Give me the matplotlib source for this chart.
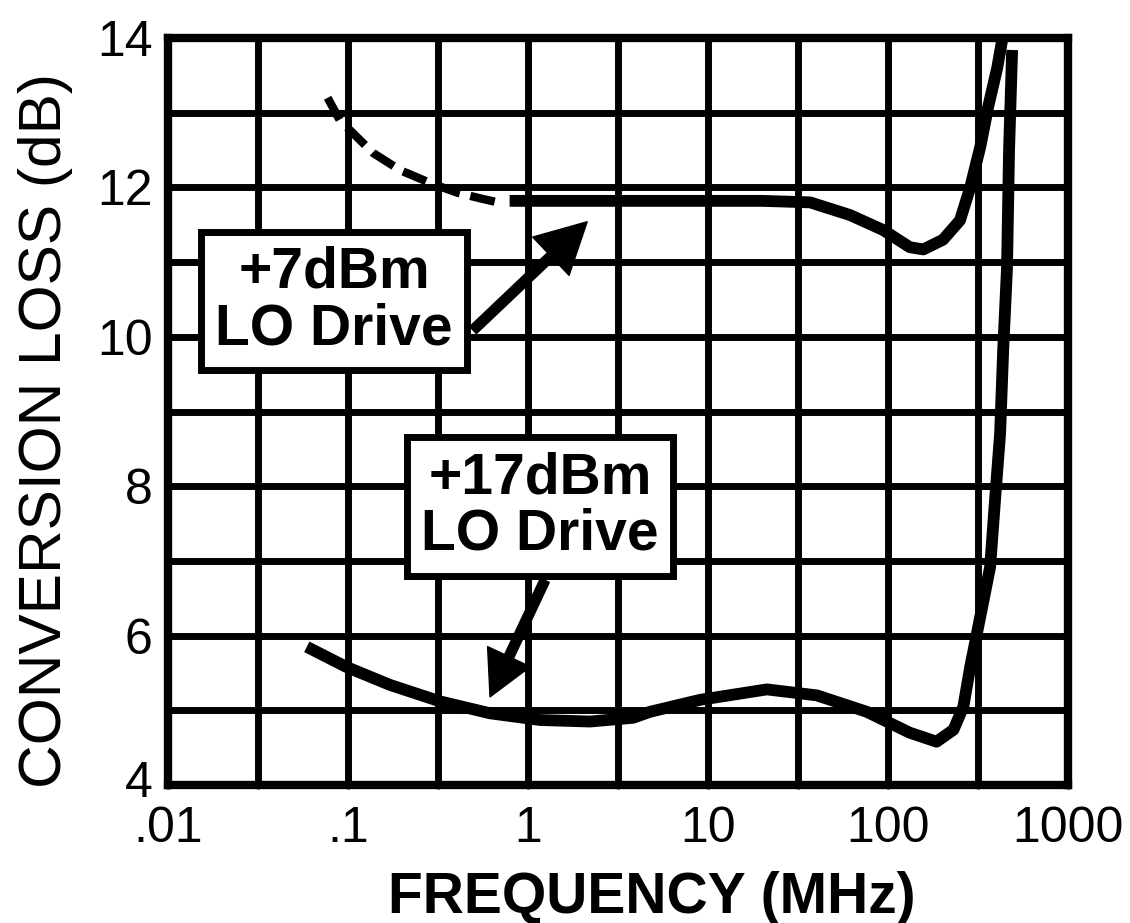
import numpy as np
import matplotlib
matplotlib.use('Agg')
import matplotlib.pyplot as plt
import matplotlib.transforms as mtransforms
from matplotlib.ticker import FixedLocator, NullFormatter

plt.rcParams['font.family'] = ['Liberation Sans', 'DejaVu Sans']

# +7dBm LO drive, dashed low-frequency part
lo7_dash_f = [0.077, 0.090, 0.138, 0.195, 0.286, 0.404, 0.55, 0.68]
lo7_dash_y = [13.2, 12.9, 12.46, 12.23, 12.06, 11.93, 11.85, 11.80]
# +7dBm LO drive, solid part
lo7_f = [0.79, 2.0, 5.0, 10.0, 20.0, 36.9, 61.5, 93.8, 132, 157, 202, 251, 286, 325, 360, 404, 430]
lo7_y = [11.82, 11.82, 11.82, 11.82, 11.82, 11.8, 11.63, 11.43, 11.2, 11.17, 11.3, 11.56, 12.0, 12.54, 13.08, 13.6, 13.97]
# +17dBm LO drive
lo17_f = [0.059, 0.098, 0.171, 0.324, 0.615, 1.17, 2.21, 3.83, 4.76, 9.03, 21.2, 40.2, 76.2,
          132, 186, 231, 262, 286, 325, 369, 393, 419, 436, 458, 470, 489]
lo17_y = [5.85, 5.58, 5.34, 5.12, 4.96, 4.87, 4.85, 4.90, 4.98, 5.14, 5.28, 5.20, 4.98,
          4.70, 4.58, 4.74, 5.05, 5.58, 6.25, 6.92, 7.82, 8.7, 9.82, 10.93, 12.5, 13.84]

x_ticks = [0.01, 0.1, 1, 10, 100, 1000]
x_labels = ['.01', '.1', '1', '10', '100', '1000']
y_ticks = [4, 6, 8, 10, 12, 14]

fig = plt.figure(figsize=(11.3, 9.23), dpi=100)
ax = fig.add_axes([0.1487, 0.1495, 0.7965, 0.8093])
ax.set_xscale('log')
ax.set_xlim(0.01, 1000)
ax.set_ylim(4, 14)

ax.set_xticks(x_ticks)
ax.set_xticklabels(x_labels)
ax.xaxis.set_minor_locator(FixedLocator(10 ** (np.arange(-2, 3) + 0.5)))
ax.xaxis.set_minor_formatter(NullFormatter())
ax.set_yticks(y_ticks)
ax.set_yticklabels([str(v) for v in y_ticks])
ax.yaxis.set_minor_locator(FixedLocator(np.arange(5, 14, 2)))

ax.grid(True, which='both', color='black', lw=5)
ax.set_axisbelow(True)
for s in ax.spines.values():
    s.set_linewidth(6)
ax.tick_params(which='both', direction='out', length=3, width=2, labelsize=36)
ax.tick_params(axis='x', pad=12)
ax.tick_params(axis='y', pad=8)

# the bottom "4" sits a little high, clear of ".01"
lab4 = ax.get_yticklabels()[0]
lab4.set_transform(lab4.get_transform() + mtransforms.ScaledTranslation(0, 4 / 72, fig.dpi_scale_trans))

ax.plot(lo7_dash_f, lo7_dash_y, color='black', lw=6, ls=(0, (3, 1.3)), zorder=3)
ax.plot(lo7_f, lo7_y, color='black', lw=8.5, solid_capstyle='butt', zorder=3)
ax.plot(lo17_f, lo17_y, color='black', lw=8.5, solid_capstyle='butt', zorder=3)

box = dict(boxstyle='square,pad=0.25', fc='white', ec='black', lw=5)
ax.annotate('', xy=(2.13, 11.54), xytext=(0.495, 10.09),
            arrowprops=dict(width=7, headwidth=38, headlength=36, facecolor='black',
                            edgecolor='black', shrink=0), zorder=4)
ax.annotate('', xy=(0.615, 5.18), xytext=(1.24, 6.74),
            arrowprops=dict(width=7, headwidth=34, headlength=32, facecolor='black',
                            edgecolor='black', shrink=0), zorder=4)
ax.text(0.0836, 10.48, '+7dBm\nLO Drive', ha='center', va='center', fontsize=41,
        fontweight='bold', linespacing=1.05, bbox=box, zorder=5)
ax.text(1.166, 7.73, '+17dBm\nLO Drive', ha='center', va='center', fontsize=41,
        fontweight='bold', linespacing=1.05, bbox=box, zorder=5)

ax.set_xlabel('FREQUENCY (MHz)', fontsize=41, fontweight='bold')
ax.xaxis.set_label_coords(0.537, -0.115)
ax.set_ylabel('CONVERSION LOSS (dB)', fontsize=43.5)
ax.yaxis.set_label_coords(-0.106, 0.475)

fig.savefig('out.png', dpi=100)
